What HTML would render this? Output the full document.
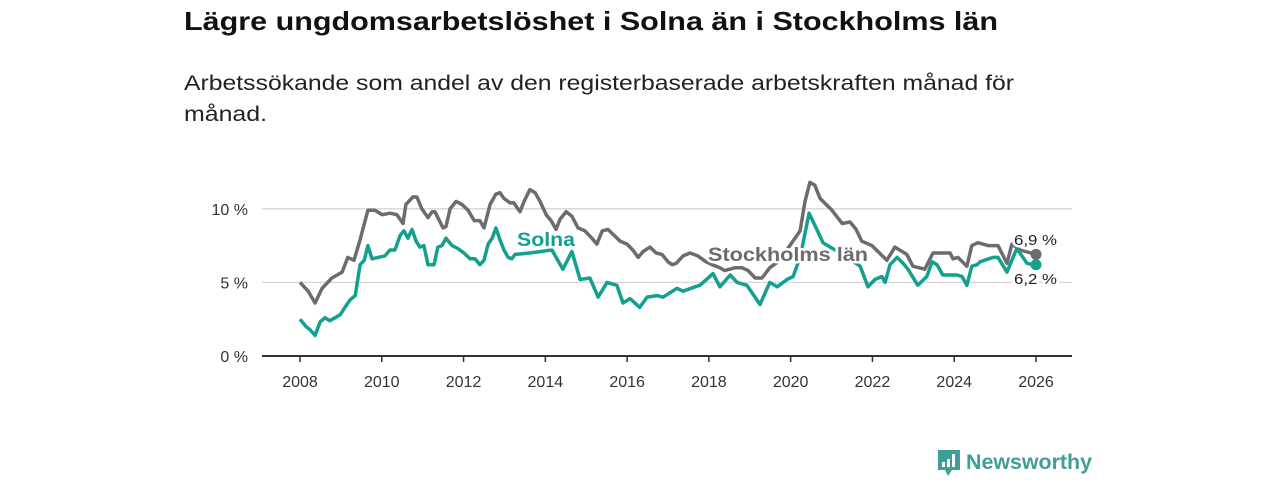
<!DOCTYPE html>
<html><head><meta charset="utf-8"><style>
html,body{margin:0;padding:0;background:#fff;width:1280px;height:480px;overflow:hidden}
svg{display:block;font-family:"Liberation Sans",sans-serif}
</style></head><body>
<svg id="chart" width="1280" height="480">
<text x="184" y="30" font-size="26" font-weight="bold" fill="#111" textLength="814" lengthAdjust="spacingAndGlyphs">Lägre ungdomsarbetslöshet i Solna än i Stockholms län</text>
<text x="184" y="90" font-size="21" fill="#222" textLength="830" lengthAdjust="spacingAndGlyphs">Arbetssökande som andel av den registerbaserade arbetskraften månad för</text>
<text x="184" y="121" font-size="21" fill="#222" textLength="83" lengthAdjust="spacingAndGlyphs">månad.</text>
<g id="grid"></g><g id="xaxis"></g><g id="lines"></g><g id="labels"></g>
<g transform="translate(938,450)">
<path d="M0 0h22v20h-8l-4 6-3-6H0z" fill="#3f9e95"/>
<rect x="4" y="12" width="3" height="5" fill="#fff"/><rect x="9" y="9" width="3" height="8" fill="#fff"/><rect x="14" y="4" width="3" height="13" fill="#fff"/>
<text x="28" y="19" font-size="21" font-weight="bold" fill="#3f9e95" textLength="126" lengthAdjust="spacingAndGlyphs">Newsworthy</text>
</g>
</svg>
<script>
const yTicks=[0,5,10];
const yTickLabels=["0 %","5 %","10 %"];
const xTicks=[2008,2010,2012,2014,2016,2018,2020,2022,2024,2026];
const baseYear=2008;
// years since 2008
const sthlmT=[0,.20,.37,.54,.78,1.03,1.17,1.32,1.47,1.66,1.83,2.01,2.20,2.37,2.52,2.59,2.76,2.86,2.98,3.13,3.23,3.30,3.50,3.57,3.67,3.82,3.96,4.11,4.26,4.40,4.50,4.65,4.79,4.89,4.99,5.14,5.23,5.38,5.48,5.62,5.75,5.87,6.02,6.14,6.26,6.36,6.51,6.65,6.80,6.97,7.14,7.26,7.39,7.53,7.68,7.83,8.00,8.14,8.27,8.39,8.56,8.71,8.85,9.00,9.10,9.20,9.37,9.54,9.73,9.93,10.08,10.27,10.39,10.64,10.81,10.96,11.13,11.30,11.49,11.74,11.98,12.23,12.35,12.47,12.59,12.72,13.01,13.26,13.45,13.60,13.74,13.99,14.35,14.55,14.84,14.99,15.28,15.48,15.90,15.97,16.09,16.31,16.43,16.58,16.83,17.07,17.29,17.41,17.61,18];
const sthlmV=[5.0,4.4,3.6,4.6,5.3,5.7,6.7,6.5,7.9,9.9,9.9,9.6,9.7,9.6,9.0,10.3,10.8,10.8,10.0,9.4,9.8,9.8,8.7,8.8,10.0,10.5,10.3,9.9,9.2,9.2,8.7,10.3,11.0,11.1,10.7,10.4,10.4,9.8,10.5,11.3,11.1,10.5,9.6,9.2,8.6,9.3,9.8,9.5,8.7,8.5,8.0,7.6,8.5,8.6,8.2,7.8,7.6,7.2,6.7,7.1,7.4,7.0,6.9,6.4,6.2,6.3,6.8,7.0,6.8,6.4,6.2,6.0,5.8,6.0,6.0,5.8,5.3,5.3,6.0,6.5,7.5,8.5,10.5,11.8,11.6,10.7,9.9,9.0,9.1,8.6,7.8,7.5,6.5,7.4,6.9,6.1,5.9,7.0,7.0,6.6,6.7,6.1,7.5,7.7,7.5,7.5,6.3,7.6,7.2,6.9];
const solnaT=[0,.15,.24,.37,.49,.61,.73,.86,.98,1.10,1.22,1.35,1.47,1.57,1.66,1.76,1.91,2.08,2.20,2.32,2.45,2.54,2.64,2.74,2.84,2.93,3.03,3.13,3.28,3.37,3.47,3.57,3.72,3.86,4.01,4.16,4.28,4.40,4.50,4.60,4.70,4.79,4.89,4.99,5.09,5.18,5.26,5.62,6.16,6.43,6.65,6.85,7.09,7.29,7.51,7.75,7.90,8.07,8.31,8.49,8.73,8.88,9.22,9.37,9.66,9.78,10.10,10.27,10.52,10.69,10.93,11.25,11.49,11.67,11.91,12.06,12.23,12.45,12.64,12.79,13.21,13.70,13.89,14.06,14.23,14.31,14.43,14.60,14.75,14.87,15.11,15.33,15.46,15.58,15.72,16.07,16.19,16.31,16.43,16.56,16.63,16.95,17.07,17.29,17.53,17.78,17.93,18];
const solnaV=[2.5,2.0,1.8,1.4,2.3,2.6,2.4,2.6,2.8,3.3,3.8,4.1,6.2,6.5,7.5,6.6,6.7,6.8,7.2,7.2,8.2,8.5,8.0,8.6,7.8,7.4,7.5,6.2,6.2,7.4,7.5,8.0,7.5,7.3,7.0,6.6,6.6,6.2,6.5,7.6,8.0,8.7,7.9,7.2,6.7,6.6,6.9,7.0,7.2,5.9,7.1,5.2,5.3,4.0,5.0,4.8,3.6,3.9,3.3,4.0,4.1,4.0,4.6,4.4,4.7,4.8,5.6,4.7,5.5,5.0,4.8,3.5,5.0,4.7,5.2,5.4,6.7,9.7,8.6,7.7,7.0,6.1,4.7,5.2,5.4,5.0,6.2,6.7,6.3,5.9,4.8,5.4,6.4,6.2,5.5,5.5,5.4,4.8,6.1,6.2,6.4,6.7,6.7,5.7,7.3,6.3,6.2,6.2];
const X0=262,X1=1072,Y0=356;
function xs(t){return 300+t*(736/18);}
function ys(v){return Y0-v*14.72;}
const NS="http://www.w3.org/2000/svg";
function mk(tag,attrs,parent){const e=document.createElementNS(NS,tag);for(const k in attrs)e.setAttribute(k,attrs[k]);parent.appendChild(e);return e;}
const grid=document.getElementById('grid');
yTicks.forEach((t,i)=>{
 if(t>0){const l=mk('line',{x1:X0,x2:X1,y1:ys(t),y2:ys(t),stroke:'#d6d6d6','stroke-width':1.3},grid);
 
 }
 const tx=mk('text',{x:248,y:ys(t)+6,'text-anchor':'end','font-size':16,fill:'#333'},grid);
 tx.textContent=yTickLabels[i];
 
 
});
const xa=document.getElementById('xaxis');
const ax=mk('line',{x1:X0,x2:X1,y1:Y0,y2:Y0,stroke:'#333','stroke-width':2},xa);


xTicks.forEach(t=>{
 const tk=mk('line',{x1:xs(t-baseYear),x2:xs(t-baseYear),y1:Y0,y2:Y0+6,stroke:'#333','stroke-width':1.5},xa);
 
 
 const tx=mk('text',{x:xs(t-baseYear),y:387,'text-anchor':'middle','font-size':16,fill:'#333'},xa);
 tx.textContent=t;
 
 
});
const lg=document.getElementById('lines');
function pts(X,V){return X.map((x,i)=>xs(x).toFixed(1)+','+ys(V[i]).toFixed(1)).join(' ');}
const l1=mk('polyline',{points:pts(sthlmT,sthlmV),fill:'none',stroke:'#6c6b70','stroke-width':3.5,'stroke-linejoin':'round'},lg);


const l2=mk('polyline',{points:pts(solnaT,solnaV),fill:'none',stroke:'#14a08f','stroke-width':3.5,'stroke-linejoin':'round'},lg);


const d1=mk('circle',{cx:xs(sthlmT[sthlmT.length-1]),cy:ys(sthlmV[sthlmV.length-1]),r:5.5,fill:'#6c6b70'},lg);


const d2=mk('circle',{cx:xs(solnaT[solnaT.length-1]),cy:ys(solnaV[solnaV.length-1]),r:5.5,fill:'#14a08f'},lg);


const lb=document.getElementById('labels');
function lab(x,y,txt,size,col,w,bold,name){
 const t=mk('text',{x:x,y:y,'font-size':size,fill:col,stroke:'#fff','stroke-width':5,'paint-order':'stroke','stroke-linejoin':'round'},lb);
 if(bold)t.setAttribute('font-weight','bold');
 if(w){t.setAttribute('textLength',w);t.setAttribute('lengthAdjust','spacingAndGlyphs');}
 t.textContent=txt;
 
 
}
lab(517,246,'Solna',19,'#14a08f',58,true,'solna-label');
lab(708,261,'Stockholms län',19,'#6c6b70',160,true,'stockholms-lan-label');
lab(1014,245,'6,9 %',15,'#222',43,false,'stockholms-lan-end-value');
lab(1014,284,'6,2 %',15,'#222',43,false,'solna-end-value');
</script>
</body></html>
